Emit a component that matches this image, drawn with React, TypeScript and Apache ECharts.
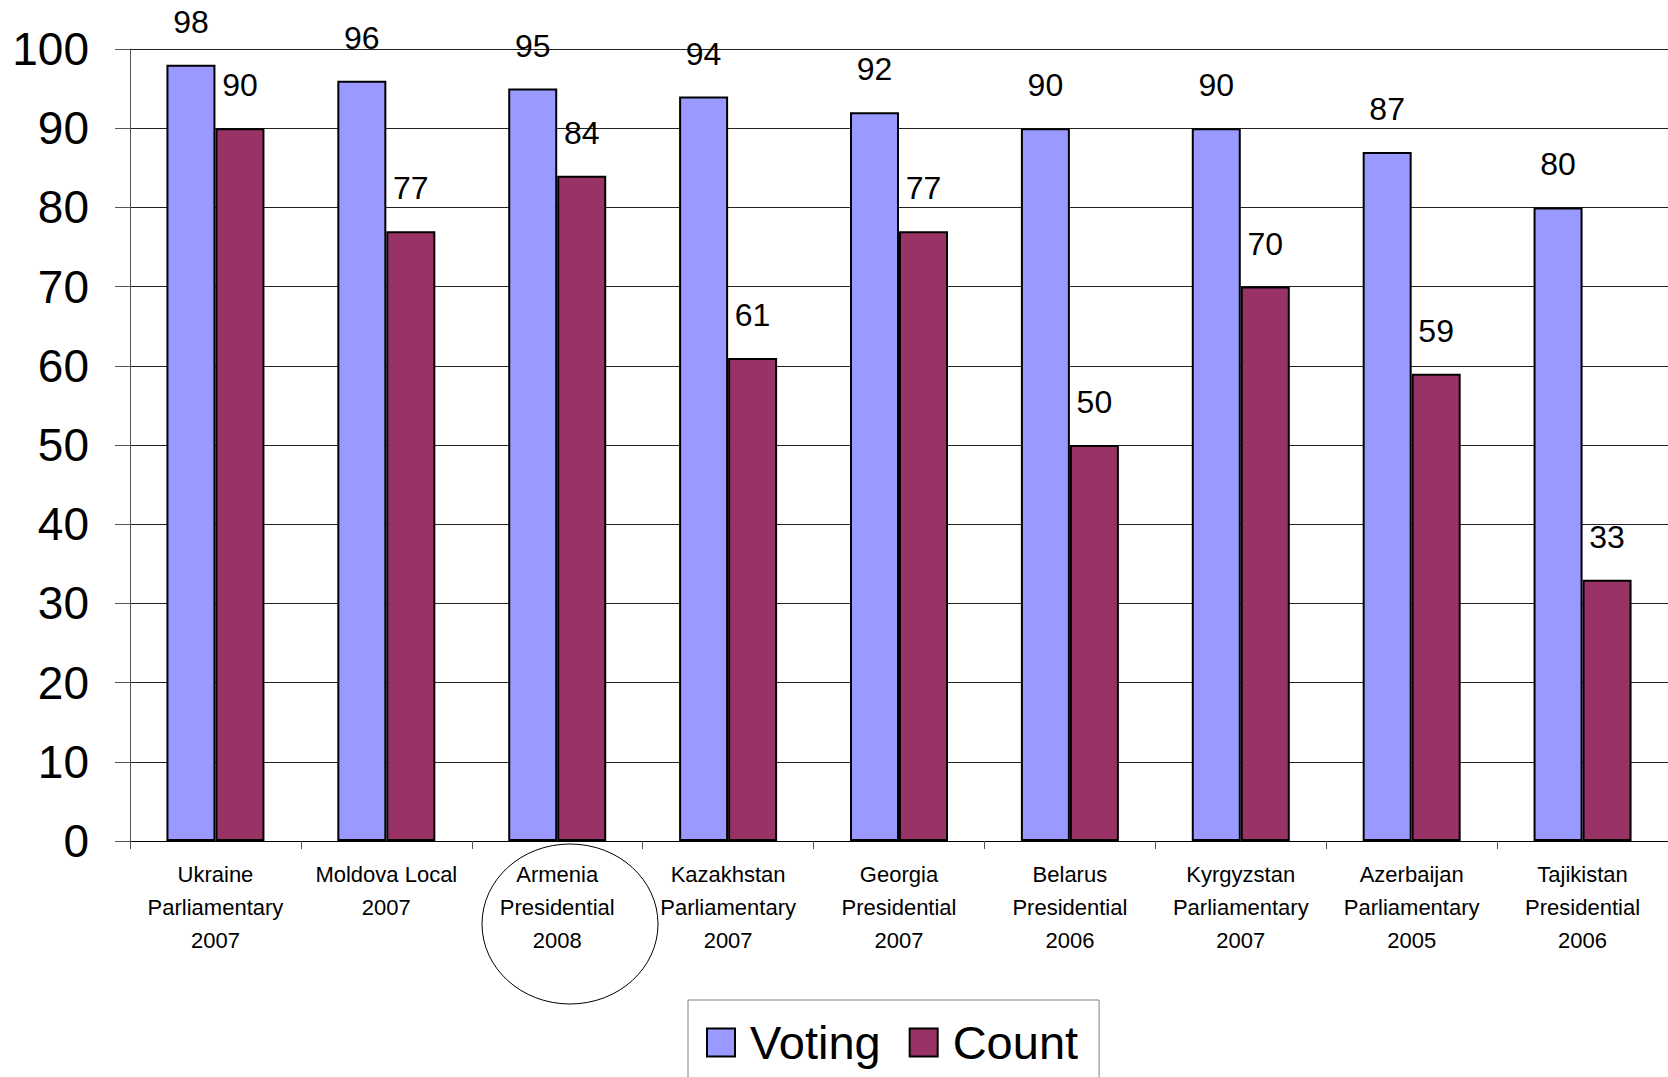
import React, { useEffect, useRef } from "react";
import * as echarts from "echarts";

const categories = [
  "Ukraine\nParliamentary\n2007",
  "Moldova Local\n2007",
  "Armenia\nPresidential\n2008",
  "Kazakhstan\nParliamentary\n2007",
  "Georgia\nPresidential\n2007",
  "Belarus\nPresidential\n2006",
  "Kyrgyzstan\nParliamentary\n2007",
  "Azerbaijan\nParliamentary\n2005",
  "Tajikistan\nPresidential\n2006",
];
const votingValues = [98, 96, 95, 94, 92, 90, 90, 87, 80];
const countValues = [90, 77, 84, 61, 77, 50, 70, 59, 33];
const seriesNames = ["Voting", "Count"];

const FONT = "'Liberation Sans', Arial, sans-serif";

export default function App() {
  const ref = useRef<HTMLDivElement>(null);
  useEffect(() => {
    if (!ref.current) return;
    const chart = echarts.init(ref.current, null, { renderer: "svg" });
    const labelCfg = {
      show: true,
      position: "top",
      distance: 27,
      fontSize: 32,
      color: "#000",
      fontFamily: FONT,
    };
    chart.setOption({
      animation: false,
      backgroundColor: "#fff",
      grid: { left: 130, right: 0, top: 49, bottom: 236, containLabel: false },
      legend: {
        data: seriesNames,
        left: 688,
        top: 1000,
        orient: "horizontal",
        padding: [19, 21, 60, 18],
        borderColor: "#808080",
        borderWidth: 1,
        itemWidth: 28,
        itemHeight: 28,
        itemGap: 28,
        icon: "rect",
        textStyle: {
          fontSize: 47,
          fontFamily: FONT,
          color: "#000",
          padding: [0, 0, 0, 10],
        },
      },
      xAxis: {
        type: "category",
        data: categories,
        axisLine: { show: true, lineStyle: { color: "#000", width: 1 } },
        axisTick: { show: true, length: 8, alignWithLabel: false, lineStyle: { color: "#555" } },
        axisLabel: {
          interval: 0,
          fontSize: 22,
          lineHeight: 33,
          margin: 17,
          color: "#000",
          fontFamily: FONT,
        },
        splitLine: { show: false },
      },
      yAxis: {
        type: "value",
        min: 0,
        max: 100,
        interval: 10,
        axisLine: { show: true, lineStyle: { color: "#555", width: 1 } },
        axisTick: { show: true, length: 15, lineStyle: { color: "#555" } },
        axisLabel: {
          fontSize: 46,
          margin: 41,
          color: "#000",
          fontFamily: FONT,
        },
        splitLine: { show: true, lineStyle: { color: "#222", width: 1 } },
      },
      series: [
        {
          name: seriesNames[0],
          type: "bar",
          data: votingValues,
          barWidth: 49,
          barGap: "0%",
          itemStyle: { color: "#9999FF", borderColor: "#000", borderWidth: 2 },
          label: labelCfg,
        },
        {
          name: seriesNames[1],
          type: "bar",
          data: countValues,
          barWidth: 49,
          barGap: "0%",
          itemStyle: { color: "#993366", borderColor: "#000", borderWidth: 2 },
          label: labelCfg,
        },
      ],
      graphic: [
        {
          type: "ellipse",
          shape: { cx: 570, cy: 924, rx: 88, ry: 80 },
          style: { fill: "none", stroke: "#000", lineWidth: 1 },
          z: 100,
        },
      ],
    });
    return () => chart.dispose();
  }, []);
  return (
    <div
      ref={ref}
      style={{ position: "fixed", left: 0, top: 0, width: 1668, height: 1077 }}
    />
  );
}
